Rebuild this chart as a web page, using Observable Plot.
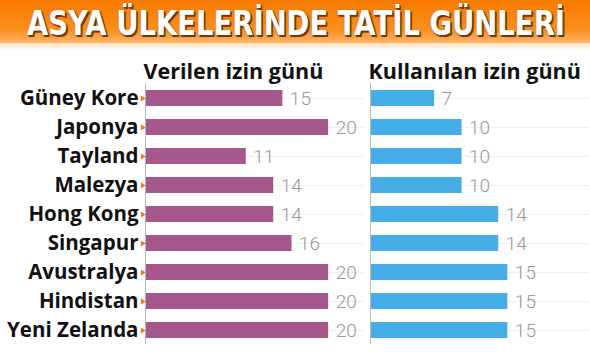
<!DOCTYPE html>
<html><head><meta charset="utf-8">
<script src="https://cdn.jsdelivr.net/npm/d3@7"></script>
<script src="https://cdn.jsdelivr.net/npm/@observablehq/plot@0.6"></script>
<style>
body{margin:0;width:590px;height:357px;overflow:hidden;background:#fff;font-family:"Open Sans",sans-serif;}
#banner{height:43px;background:linear-gradient(#f77a00 0%,#fb8f1e 70%,#fdb56a 100%);position:relative;}
#banner:after{content:"";position:absolute;left:0;right:0;top:43px;height:8px;background:linear-gradient(#fde0c0,#fff);}
#title{position:absolute;left:27px;top:3px;white-space:nowrap;color:#fff;font-family:"DejaVu Sans",sans-serif;font-weight:bold;font-size:34px;transform-origin:0 0;text-shadow:2px 2px 0 #6b3a10,1px 1px 2px #4a2500;}
#chart{position:absolute;top:43px;left:0;}
</style></head><body>
<div id="banner"><div id="title">ASYA ÜLKELERİNDE TATİL GÜNLERİ</div></div>
<div id="chart"></div>
<script>
const countries = ["Güney Kore","Japonya","Tayland","Malezya","Hong Kong","Singapur","Avustralya","Hindistan","Yeni Zelanda"];
const given = [15,20,11,14,14,16,20,20,20];
const used = [7,10,10,10,14,14,15,15,15];
const series = ["Verilen izin günü","Kullanılan izin günü"];
const colors = ["#a6578b","#46aee7"];

const t = document.getElementById("title");
t.style.transform = `scaleX(${538 / t.getBoundingClientRect().width})`;

const data = [];
countries.forEach((c,i)=>{
  data.push({country:c, series:series[0], value:given[i]});
  data.push({country:c, series:series[1], value:used[i]});
});

const W = 590, H = 314;
const plot = Plot.plot({
  width: W, height: H,
  marginLeft: 144, marginRight: 0, marginTop: 40, marginBottom: 13,
  style:{background:"transparent", overflow:"visible"},
  fx:{domain:series, paddingInner:0.0265, paddingOuter:0, axis:null},
  x:{domain:[0,220/9.2], axis:null},
  y:{domain:countries, paddingInner:0.45, paddingOuter:0.15, label:null, tickSize:0},
  color:{domain:series, range:colors},
  marks:[
    Plot.gridY(countries,{stroke:"#efefef", strokeOpacity:1, strokeWidth:1}),
    Plot.barX(data,{fx:"series", y:"country", x:"value", fill:"series"}),
    Plot.text(data,{fx:"series", y:"country", x:"value", text:d=>String(d.value), textAnchor:"start", dx:7, fill:"#999", fontSize:19, fontWeight:300, fontFamily:"Roboto"}),
    Plot.ruleX([0],{stroke:"#bbb", strokeWidth:1}),
    Plot.text(series,{fx:d=>d, text:d=>d, frameAnchor:"top-left", dy:-20, dx:-2, textAnchor:"start", fontSize:21.5, fontWeight:"bold", fill:"#111", fontFamily:"Open Sans"}),
    Plot.dot(countries,{y:d=>d, x:0, fx:()=>series[0], symbol:"triangle", r:2.2, rotate:90, fill:"#f27a1a", dx:-3}),
    Plot.axisY({fx:series[0], tickSize:0, tickPadding:7, fontSize:20.5, fontWeight:"bold", fill:"#111", fontFamily:"Open Sans", label:null})
  ]
});
document.getElementById("chart").appendChild(plot);
</script>
</body></html>
